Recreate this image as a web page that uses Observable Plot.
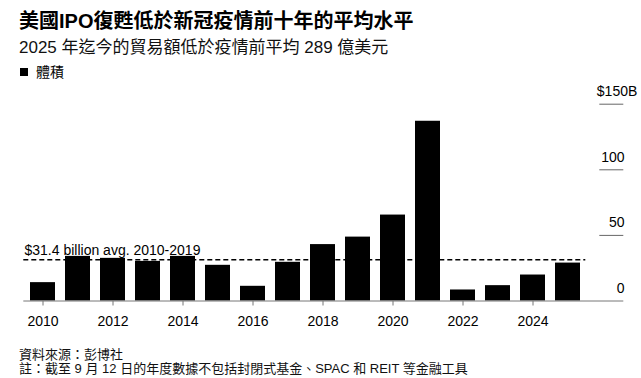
<!DOCTYPE html>
<html>
<head>
<meta charset="utf-8">
<script src="https://cdn.jsdelivr.net/npm/d3@7"></script>
<script src="https://cdn.jsdelivr.net/npm/@observablehq/plot@0.6"></script>
<style>
  html, body { margin: 0; padding: 0; background: #fff; }
  body { width: 641px; height: 378px; position: relative; overflow: hidden;
         font-family: "Liberation Sans", Arial, "Noto Sans CJK TC", sans-serif; color: #000; }
  .abs { position: absolute; white-space: nowrap; }
  #title { left: 19px; top: 9px; font-size: 20px; font-weight: bold; line-height: 24px; }
  #subtitle { left: 19px; top: 37px; font-size: 17px; line-height: 21px; color: #111; }
  #legend { left: 20px; top: 64px; font-size: 14px; line-height: 17px; }
  #legend .sw { display: inline-block; width: 8px; height: 8px; background: #000; margin-right: 8px; vertical-align: 1px; }
  #chart { left: 0; top: 80px; }
  #foot1 { left: 19px; top: 348px; font-size: 13px; line-height: 13px; color: #111; }
  #foot2 { left: 19px; top: 362px; font-size: 13px; line-height: 13px; color: #111; }
</style>
</head>
<body>
<div id="title" class="abs"></div>
<div id="subtitle" class="abs"></div>
<div id="legend" class="abs"><span class="sw"></span><span id="legendText"></span></div>
<div id="chart" class="abs"></div>
<div id="foot1" class="abs"></div>
<div id="foot2" class="abs"></div>
<script>
const titleText = "美國IPO復甦低於新冠疫情前十年的平均水平";
const subtitleText = "2025 年迄今的貿易額低於疫情前平均 289 億美元";
const legendLabel = "體積";
const sourceText = "資料來源：彭博社";
const noteText = "註：截至 9 月 12 日的年度數據不包括封閉式基金、SPAC 和 REIT 等金融工具";

const years = [2010, 2011, 2012, 2013, 2014, 2015, 2016, 2017, 2018, 2019, 2020, 2021, 2022, 2023, 2024, 2025];
const volumes = [14.0, 34.0, 32.5, 30.2, 34.0, 27.2, 11.2, 29.5, 43.0, 48.7, 65.5, 137.0, 8.4, 11.7, 19.8, 28.9];
const xTicks = [2010, 2012, 2014, 2016, 2018, 2020, 2022, 2024];
const yTicks = [0, 50, 100, 150];
const yTickLabels = ["0", "50", "100", "$150B"];
const avgValue = 31.4;
const avgLabel = "$31.4 billion avg. 2010-2019";

document.getElementById("title").textContent = titleText;
document.getElementById("subtitle").textContent = subtitleText;
document.getElementById("legendText").textContent = legendLabel;
document.getElementById("foot1").textContent = sourceText;
document.getElementById("foot2").textContent = noteText;

const data = years.map((y, i) => ({year: y, value: volumes[i]}));
const yt = yTicks.map((v, i) => ({v, label: yTickLabels[i]}));

const W = 641, H = 260;
const mL = 23.3, mR = 55.7, mT = 23.7, mB = 39.5;
const frameW = W - mL - mR;

const chart = Plot.plot({
  width: W,
  height: H,
  marginLeft: mL,
  marginRight: mR,
  marginTop: mT,
  marginBottom: mB,
  style: {fontFamily: '"Liberation Sans", Arial, "Noto Sans CJK TC", sans-serif', fontSize: "14px", color: "#000", overflow: "visible", background: "transparent"},
  x: {type: "band", domain: years, paddingInner: 0.3, paddingOuter: 0, axis: null},
  y: {domain: [0, 150], axis: null},
  marks: [
    Plot.barY(data, {x: "year", y: "value", fill: "#000"}),
    Plot.ruleY([0], {stroke: "#777", strokeWidth: 1, insetRight: -38}),
    Plot.ruleY(yTicks.filter(d => d > 0), {stroke: "#666", strokeWidth: 1, insetLeft: frameW + 14, insetRight: -38}),
    Plot.text(yt.filter(d => d.v < 150), {y: "v", text: "label", frameAnchor: "right", textAnchor: "end", dx: 38.7, dy: -12.7, fontSize: 14, fill: "#000"}),
    Plot.text(yt.filter(d => d.v === 150), {y: "v", text: "label", frameAnchor: "right", textAnchor: "end", dx: 51.5, dy: -13, fontSize: 14, fill: "#000"}),
    Plot.ruleY([avgValue], {stroke: "#000", strokeWidth: 1.5, strokeDasharray: "5,3"}),
    Plot.text([avgLabel], {y: () => avgValue, text: d => d, frameAnchor: "left", textAnchor: "start", dx: 0.7, dy: -9.5, fontSize: 14, fill: "#000"}),
    Plot.axisX({ticks: xTicks, tickSize: 5, tickPadding: 10, stroke: "#777", fill: "#000", fontSize: 14, tickFormat: d => String(d), label: null})
  ]
});
document.getElementById("chart").appendChild(chart);
</script>
</body>
</html>
